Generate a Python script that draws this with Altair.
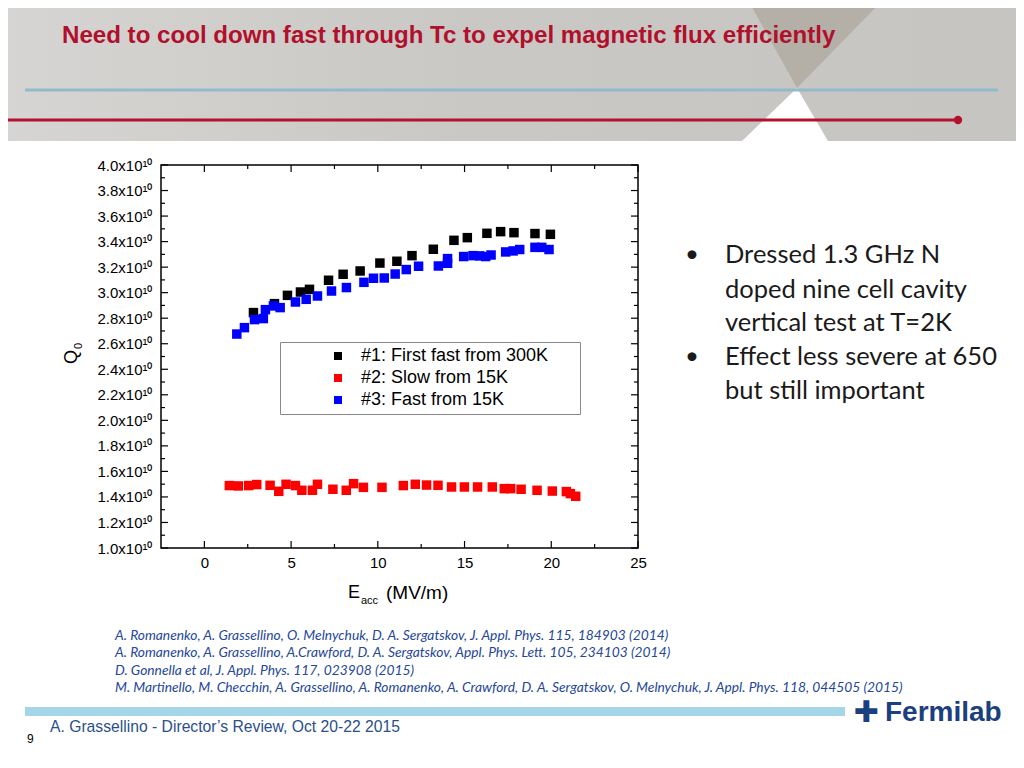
import altair as alt
import pandas as pd

# ---------------- data (Q0 in units of 1e10) ----------------
series_names = ["#1: First fast from 300K", "#2: Slow from 15K", "#3: Fast from 15K"]
series_colors = ["#000000", "#ff0000", "#0000ff"]

black_E = [2.83, 4.04, 4.79, 5.54, 6.06, 7.16, 8.00, 8.98, 10.12, 11.10, 11.97, 13.20,
           14.39, 15.16, 16.29, 17.08, 17.85, 19.06, 19.95]
black_Q = [2.844, 2.914, 2.979, 3.005, 3.026, 3.097, 3.144, 3.170, 3.232, 3.246, 3.290, 3.340,
           3.410, 3.431, 3.465, 3.478, 3.470, 3.463, 3.457]

red_E = [1.44, 1.96, 2.56, 3.02, 3.79, 4.29, 4.71, 5.25, 5.62, 6.23, 6.52, 7.41, 8.18, 8.60,
         9.17, 10.24, 11.47, 12.16, 12.81, 13.47, 14.25, 14.99, 15.75, 16.60, 17.29, 17.66,
         18.26, 19.18, 20.06, 20.87, 21.10, 21.41]
red_Q = [1.489, 1.486, 1.489, 1.497, 1.491, 1.444, 1.499, 1.489, 1.452, 1.452, 1.499, 1.460,
         1.452, 1.504, 1.475, 1.475, 1.489, 1.499, 1.493, 1.491, 1.478, 1.478, 1.478, 1.478,
         1.465, 1.465, 1.460, 1.452, 1.446, 1.442, 1.426, 1.405]

blue_E = [1.87, 2.31, 2.89, 3.40, 3.52, 3.98, 4.37, 5.25, 5.87, 6.52, 7.33, 8.19, 9.20, 9.75,
          10.37, 11.00, 11.64, 12.35, 13.49, 14.02, 14.02, 14.95, 15.49, 15.87, 16.22, 16.53,
          17.37, 17.80, 18.18, 19.06, 19.45, 19.87]
blue_Q = [2.676, 2.726, 2.789, 2.797, 2.867, 2.896, 2.883, 2.927, 2.948, 2.974, 3.013, 3.040,
          3.081, 3.113, 3.115, 3.146, 3.181, 3.207, 3.209, 3.230, 3.267, 3.283, 3.290, 3.288,
          3.283, 3.295, 3.319, 3.327, 3.338, 3.355, 3.355, 3.338]

x_major = [0, 5, 10, 15, 20, 25]
x_minor = [2.5, 7.5, 12.5, 17.5, 22.5]
y_major = [1.0, 1.2, 1.4, 1.6, 1.8, 2.0, 2.2, 2.4, 2.6, 2.8, 3.0, 3.2, 3.4, 3.6, 3.8, 4.0]
y_minor = [1.1, 1.3, 1.5, 1.7, 1.9, 2.1, 2.3, 2.5, 2.7, 2.9, 3.1, 3.3, 3.5, 3.7, 3.9]

slide_title = "Need to cool down fast through Tc to expel magnetic flux efficiently"
bullet_lines = ["Dressed 1.3 GHz N", "doped nine cell cavity", "vertical test at T=2K",
                "Effect less severe at 650", "but still important"]
bullet_marks = [True, False, False, True, False]
references = [
    "A. Romanenko, A. Grassellino, O. Melnychuk, D. A. Sergatskov, J. Appl. Phys. 115, 184903 (2014)",
    "A. Romanenko, A. Grassellino, A.Crawford, D. A. Sergatskov, Appl. Phys. Lett. 105, 234103 (2014)",
    "D. Gonnella et al, J. Appl. Phys. 117, 023908 (2015)",
    "M. Martinello, M. Checchin, A. Grassellino, A. Romanenko, A. Crawford, D. A. Sergatskov, O. Melnychuk, J. Appl. Phys. 118, 044505 (2015)",
]
footer_text = "A. Grassellino - Director\u2019s Review, Oct 20-22 2015"
page_number = "9"

# ---------------- tables ----------------
rows = []
for name, xs_, qs_ in zip(series_names, [black_E, red_E, blue_E], [black_Q, red_Q, blue_Q]):
    for e, q in zip(xs_, qs_):
        rows.append({"E": e, "Q0": q * 1e10, "run": name})
df = pd.DataFrame(rows)
one = pd.DataFrame({"k": [0]})

W, H = 477, 383
OX, OY = 161, 165  # page position of plot origin
AR = "Liberation Sans"


def rx(px):
    return px - OX


def ry(py):
    return py - OY


xs = alt.Scale(domain=[-2.5, 25], nice=False, zero=False)
ys = alt.Scale(domain=[1.0e10, 4.0e10], nice=False, zero=False)

x_axis = alt.Axis(values=x_major, ticks=False, domain=False, grid=False, title=None,
                  labelFont=AR, labelFontSize=15, labelColor="black", labelPadding=7,
                  labelFlush=False, labelOverlap=False)
y_axis = alt.Axis(values=[v * 1e10 for v in y_major], ticks=False, domain=False, grid=False,
                  title=None, labelFont=AR, labelFontSize=15, labelColor="black", labelPadding=9,
                  labelFlush=False, labelOverlap=False,
                  labelExpr="format(datum.value/1e10, '.1f') + 'x10\u00b9\u2070'")


def txt(s, px, py, size, color="black", font=AR, weight="normal", style="normal",
        align="left", baseline="middle", angle=0):
    return alt.Chart(one).mark_text(
        text=s, align=align, baseline=baseline, fontSize=size, color=color, font=font,
        fontWeight=weight, fontStyle=style, angle=angle
    ).encode(x=alt.value(rx(px)), y=alt.value(ry(py)))


def hline(x1, x2, y, color, width):
    return alt.Chart(one).mark_rule(color=color, strokeWidth=width).encode(
        x=alt.value(rx(x1)), x2=alt.value(rx(x2)), y=alt.value(ry(y)))


def poly(path, color, opacity=1.0):
    return alt.Chart(one).mark_point(shape=path, size=4, filled=True, color=color,
                                     opacity=opacity, strokeWidth=0).encode(
        x=alt.value(0), y=alt.value(0))


def tri_path(pts):
    p = [(rx(a), ry(b)) for a, b in pts]
    return "M {} {} L {} {} L {} {} Z".format(p[0][0], p[0][1], p[1][0], p[1][1], p[2][0], p[2][1])


layers = []

# header band
layers.append(alt.Chart(one).mark_rect(
    color=alt.Gradient(gradient="linear", x1=0, x2=1, y1=0, y2=0,
                       stops=[alt.GradientStop(color="#d6d5d3", offset=0),
                              alt.GradientStop(color="#cac8c4", offset=0.45),
                              alt.GradientStop(color="#c7c5c1", offset=1)])
).encode(x=alt.value(rx(0)), x2=alt.value(rx(1024)), y=alt.value(ry(0)), y2=alt.value(ry(141))))
layers.append(poly(tri_path([(748, 0), (883, 0), (797, 88)]), "#b4b0a7"))
layers.append(poly(tri_path([(797, 88), (742, 141), (828, 141)]), "#ffffff"))
layers.append(hline(25, 998, 90, "#93b9cc", 3))
layers.append(hline(0, 958, 120, "#b3122f", 3))
layers.append(alt.Chart(one).mark_point(shape="circle", filled=True, size=70, color="#b3122f",
                                        opacity=1).encode(x=alt.value(rx(958)), y=alt.value(ry(120))))
layers.append(txt(slide_title, 62, 36, 24.1, color="#b0102c", weight="bold"))

# bullets
bullet_y = [255, 290, 323, 357, 391]
for line, has_b, by in zip(bullet_lines, bullet_marks, bullet_y):
    if has_b:
        layers.append(txt("\u2022", 692, by, 24, color="#1a1a1a", font="Lato", align="center"))
    layers.append(txt(line, 725, by, 25.5, color="#1a1a1a", font="Lato"))

# references
for line, ref_y in zip(references, [636, 653, 671, 688]):
    layers.append(txt(line, 115, ref_y, 13.8, color="#24479a", font="Lato", style="italic"))

# footer
layers.append(alt.Chart(one).mark_rect(color="#a5d6e8").encode(
    x=alt.value(rx(25)), x2=alt.value(rx(845)), y=alt.value(ry(707)), y2=alt.value(ry(716))))
layers.append(txt(footer_text, 50, 727, 15.7, color="#2b4f8c"))
layers.append(txt(page_number, 27, 739, 12, color="black"))
layers.append(txt("\u271a", 866, 713, 30, color="#1b3f7f", font="DejaVu Sans", align="center"))
layers.append(txt("Fermilab", 885, 713, 28, color="#1b3f7f", weight="bold"))

# inward ticks on all four sides
def yticks(vals, length):
    d = pd.DataFrame({"Q0": [v * 1e10 for v in vals]})
    b = alt.Chart(d).mark_rule(color="black", strokeWidth=1.2)
    return [b.encode(y=alt.Y("Q0:Q", scale=ys, axis=y_axis), x=alt.value(0), x2=alt.value(length)),
            b.encode(y=alt.Y("Q0:Q", scale=ys, axis=y_axis), x=alt.value(W), x2=alt.value(W - length))]


def xticks(vals, length):
    d = pd.DataFrame({"E": vals})
    b = alt.Chart(d).mark_rule(color="black", strokeWidth=1.2)
    return [b.encode(x=alt.X("E:Q", scale=xs, axis=x_axis), y=alt.value(H), y2=alt.value(H - length)),
            b.encode(x=alt.X("E:Q", scale=xs, axis=x_axis), y=alt.value(0), y2=alt.value(length))]


layers += yticks(y_major, 7) + yticks(y_minor, 4) + xticks(x_major, 7) + xticks(x_minor, 4)

# data points
points = alt.Chart(df).mark_point(shape="square", filled=True, size=90, opacity=1).encode(
    x=alt.X("E:Q", scale=xs, axis=x_axis),
    y=alt.Y("Q0:Q", scale=ys, axis=y_axis),
    color=alt.Color("run:N", scale=alt.Scale(domain=series_names, range=series_colors),
                    legend=alt.Legend(orient="none", legendX=119, legendY=177, title=None,
                                      strokeColor="#8a8a8a", fillColor="white", padding=5,
                                      symbolType="square", symbolSize=64, symbolStrokeWidth=0,
                                      symbolOffset=44, labelOffset=14, rowPadding=4,
                                      labelFont=AR, labelFontSize=18, labelColor="black",
                                      labelLimit=400,
                                      labelExpr="datum.label + '\u2800\u2800'")),
)
layers.append(points)

# axis titles
layers.append(txt("Q", 72, 357, 18, angle=270, align="center"))
layers.append(txt("0", 79, 346, 11, angle=270, align="center"))
layers.append(txt("E", 348, 593, 18))
layers.append(txt("acc", 361, 601, 11))
layers.append(txt("(MV/m)", 386, 593, 19))

chart = alt.layer(*layers).properties(
    width=W, height=H,
    padding={"left": OX - 8, "top": OY - 8, "right": 1008 - (OX - 8) - W, "bottom": 745 - (OY - 8) - H},
    autosize=alt.AutoSizeParams(type="none"),
    background="white",
).configure_view(stroke="black", strokeWidth=1.5)

chart.save("out.html", embed_options={"renderer": "svg", "actions": False})
